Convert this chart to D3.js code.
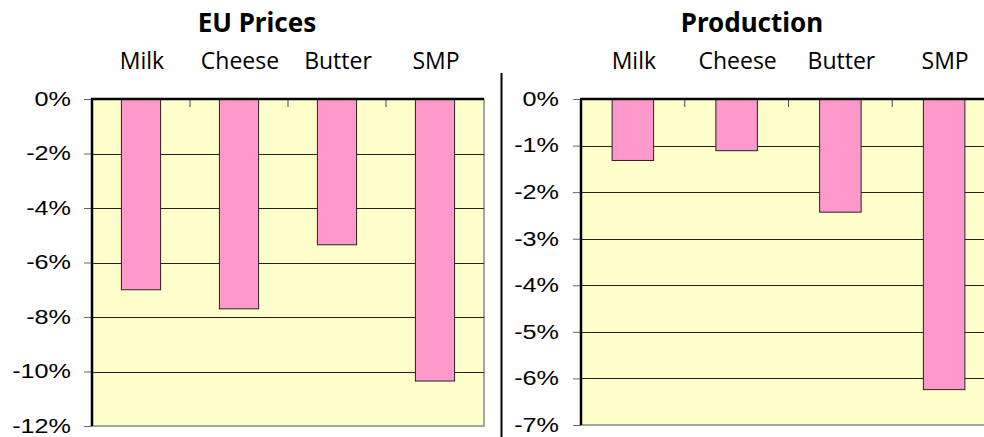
<!DOCTYPE html>
<html>
<head>
<meta charset="utf-8">
<script src="https://cdn.jsdelivr.net/npm/d3@7"></script>
<style>
  body { margin: 0; background: #fff; }
  svg { display: block; }
</style>
</head>
<body>
<div id="chart"></div>
<script>
// data (percent change)
const categories = ["Milk", "Cheese", "Butter", "SMP"];
const priceValues = [-7.0, -7.7, -5.35, -10.35];
const productionValues = [-1.32, -1.11, -2.43, -6.24];
const priceTicks = [0, -2, -4, -6, -8, -10, -12];
const productionTicks = [0, -1, -2, -3, -4, -5, -6, -7];

const width = 984, height = 437;

const svg = d3.select("#chart")
  .append("svg")
  .attr("width", width)
  .attr("height", height);

/**
 * draw one bar panel
 */
function drawPanel(cfg){
  const g = svg.append("g");

  const x = d3.scaleBand()
    .domain(categories)
    .range([cfg.left, cfg.right])
    .paddingInner(0.6)
    .paddingOuter(0.3);

  const y = d3.scaleLinear()
    .domain([0, d3.min(cfg.ticks)])
    .range([cfg.top, cfg.bottom]);

  // plot background
  g.append("rect")
    .attr("x", cfg.left)
    .attr("y", cfg.top)
    .attr("width", cfg.right - cfg.left)
    .attr("height", cfg.bottom - cfg.top)
    .attr("fill", "#FFFFCC")
    .attr("stroke", "#8a8a80")
    .attr("stroke-width", 1.5);

  // gridlines
  g.selectAll(".grid")
    .data(cfg.ticks.filter(d => d != 0 && d != d3.min(cfg.ticks)))
    .enter()
    .append("line")
    .attr("x1", cfg.left)
    .attr("x2", cfg.right)
    .attr("y1", d => Math.round(y(d)) + 0.5)
    .attr("y2", d => Math.round(y(d)) + 0.5)
    .attr("stroke", "#222")
    .attr("stroke-width", 1);

  // bars
  g.selectAll(".bar")
    .data(cfg.values)
    .enter()
    .append("rect")
    .attr("x", (d, i) => x(categories[i]))
    .attr("y", y(0))
    .attr("width", x.bandwidth())
    .attr("height", d => y(d) - y(0))
    .attr("fill", "#FF99CC")
    .attr("stroke", "#222")
    .attr("stroke-width", 1);

  // category ticks (inside, downwards)
  const step = x.step();
  g.selectAll(".ctick")
    .data(categories.slice(1))
    .enter()
    .append("line")
    .attr("x1", (d, i) => cfg.left + step * (i + 1))
    .attr("x2", (d, i) => cfg.left + step * (i + 1))
    .attr("y1", cfg.top)
    .attr("y2", cfg.top + 8)
    .attr("stroke", "#444")
    .attr("stroke-width", 1);

  // category labels above the plot
  g.selectAll(".clabel")
    .data(categories)
    .enter()
    .append("text")
    .attr("x", d => x(d) + x.bandwidth() / 2 + 1)
    .attr("y", 69)
    .attr("text-anchor", "middle")
    .style("font-family", "'Open Sans', sans-serif")
    .style("font-size", "23px")
    .attr("fill", "#000")
    .text(d => d);

  // value axis
  const axis = g.append("g")
    .attr("transform", "translate(" + cfg.left + ",0)")
    .call(d3.axisLeft(y)
      .tickValues(cfg.ticks)
      .tickSize(8)
      .tickPadding(0)
      .tickFormat(d => d + "%"));
  axis.select(".domain").remove();
  axis.selectAll(".tick line").attr("stroke", "#666");
  axis.selectAll(".tick text")
    .attr("x", null)
    .attr("dy", "0.3em")
    .attr("transform", "translate(" + (-cfg.labelGap) + ",0) scale(1.2,1)")
    .attr("text-anchor", "end")
    .style("font-family", "'Liberation Sans', Arial, sans-serif")
    .style("font-size", "21px")
    .attr("fill", "#000");

  // axis lines
  g.append("line")
    .attr("x1", cfg.left - 1)
    .attr("x2", cfg.right)
    .attr("y1", cfg.top)
    .attr("y2", cfg.top)
    .attr("stroke", "#000")
    .attr("stroke-width", 2.5);
  g.append("line")
    .attr("x1", cfg.left)
    .attr("x2", cfg.left)
    .attr("y1", cfg.top)
    .attr("y2", cfg.bottom)
    .attr("stroke", "#000")
    .attr("stroke-width", 2.5);

  // title
  g.append("text")
    .attr("x", cfg.titleX)
    .attr("y", 32)
    .attr("text-anchor", "middle")
    .style("font-family", "'Noto Sans', sans-serif")
    .style("font-weight", "bold")
    .style("font-size", "26px")
    .attr("fill", "#000")
    .text(cfg.title);
}

drawPanel({
  title: "EU Prices", values: priceValues, ticks: priceTicks,
  left: 92, right: 484, top: 99, bottom: 426, titleX: 257, labelGap: 21
});

drawPanel({
  title: "Production", values: productionValues, ticks: productionTicks,
  left: 581, right: 996, top: 99, bottom: 425, titleX: 752, labelGap: 22
});

// divider between the panels
svg.append("line")
  .attr("x1", 501.5)
  .attr("x2", 501.5)
  .attr("y1", 73)
  .attr("y2", height)
  .attr("stroke", "#000")
  .attr("stroke-width", 2);
</script>
</body>
</html>
